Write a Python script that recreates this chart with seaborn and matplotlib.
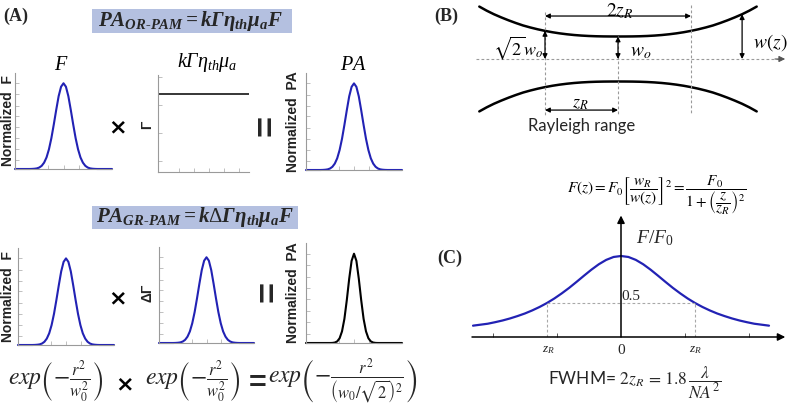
import numpy as np
import pandas as pd
import matplotlib
matplotlib.use("Agg")
import matplotlib.pyplot as plt
from matplotlib.patches import Rectangle
import seaborn as sns

# ---------------- data ----------------
# radial position (normalised units) for the small Gaussian panels
r_pos = [-1.0, -0.95, -0.9, -0.85, -0.8, -0.75, -0.7, -0.65, -0.6, -0.55, -0.5,
         -0.45, -0.4, -0.35, -0.3, -0.25, -0.2, -0.15, -0.1, -0.05, 0.0,
         0.05, 0.1, 0.15, 0.2, 0.25, 0.3, 0.35, 0.4, 0.45, 0.5,
         0.55, 0.6, 0.65, 0.7, 0.75, 0.8, 0.85, 0.9, 0.95, 1.0]
# normalised fluence F (blue, broad)
fluence_norm = [0, 0, 0, 0, 0, 0, 0, 0.001, 0.003, 0.007, 0.017,
                0.037, 0.074, 0.135, 0.23, 0.36, 0.52, 0.69, 0.85, 0.96, 1.0,
                0.96, 0.85, 0.69, 0.52, 0.36, 0.23, 0.135, 0.074, 0.037, 0.017,
                0.007, 0.003, 0.001, 0, 0, 0, 0, 0, 0, 0]
# normalised Grueneisen change (blue, broad)
delta_gamma_norm = [0, 0, 0, 0, 0, 0, 0, 0.001, 0.003, 0.007, 0.017,
                    0.037, 0.074, 0.135, 0.23, 0.36, 0.52, 0.69, 0.85, 0.96, 1.0,
                    0.96, 0.85, 0.69, 0.52, 0.36, 0.23, 0.135, 0.074, 0.037, 0.017,
                    0.007, 0.003, 0.001, 0, 0, 0, 0, 0, 0, 0]
# normalised PA of OR-PAM (blue, same width as F)
pa_or_norm = [0, 0, 0, 0, 0, 0, 0, 0.001, 0.003, 0.007, 0.017,
              0.037, 0.074, 0.135, 0.23, 0.36, 0.52, 0.69, 0.85, 0.96, 1.0,
              0.96, 0.85, 0.69, 0.52, 0.36, 0.23, 0.135, 0.074, 0.037, 0.017,
              0.007, 0.003, 0.001, 0, 0, 0, 0, 0, 0, 0]
# normalised PA of GR-PAM (black, narrower)
pa_gr_norm = [0, 0, 0, 0, 0, 0, 0, 0, 0, 0, 0,
              0.001, 0.005, 0.018, 0.053, 0.13, 0.27, 0.48, 0.72, 0.92, 1.0,
              0.92, 0.72, 0.48, 0.27, 0.13, 0.053, 0.018, 0.005, 0.001, 0,
              0, 0, 0, 0, 0, 0, 0, 0, 0, 0]
# constant Grueneisen term (OR-PAM)
gamma_const = 0.8

# Panel B: beam radius w(z) in units of w0 vs z in units of zR
beam_z = [-1.9, -1.8, -1.7, -1.6, -1.5, -1.4, -1.3, -1.2, -1.1, -1.0, -0.9, -0.8,
          -0.7, -0.6, -0.5, -0.4, -0.3, -0.2, -0.1, 0.0, 0.1, 0.2, 0.3, 0.4,
          0.5, 0.6, 0.7, 0.8, 0.9, 1.0, 1.1, 1.2, 1.3, 1.4, 1.5, 1.6, 1.7, 1.8, 1.9]
beam_w = [2.33, 2.15, 1.99, 1.85, 1.72, 1.60, 1.49, 1.40, 1.32, 1.25, 1.19, 1.14,
          1.099, 1.066, 1.041, 1.023, 1.011, 1.004, 1.001, 1.0, 1.001, 1.004, 1.011, 1.023,
          1.041, 1.066, 1.099, 1.14, 1.19, 1.25, 1.32, 1.40, 1.49, 1.60, 1.72, 1.85, 1.99, 2.15, 2.33]
beam_marks_z = [-1.0, 0.0, 1.0]      # Rayleigh range / waist positions
wz_arrow_z = 1.7                      # where w(z) is indicated

# Panel C: axial fluence F/F0 vs z/zR
axial_z = [-2.0, -1.9, -1.8, -1.7, -1.6, -1.5, -1.4, -1.3, -1.2, -1.1, -1.0, -0.9, -0.8,
           -0.7, -0.6, -0.5, -0.4, -0.3, -0.2, -0.1, 0.0, 0.1, 0.2, 0.3, 0.4, 0.5, 0.6,
           0.7, 0.8, 0.9, 1.0, 1.1, 1.2, 1.3, 1.4, 1.5, 1.6, 1.7, 1.8, 1.9, 2.0]
axial_f = [0.14, 0.152, 0.164, 0.183, 0.204, 0.229, 0.258, 0.290, 0.328, 0.371, 0.420,
           0.476, 0.539, 0.607, 0.681, 0.757, 0.831, 0.898, 0.952, 0.988, 1.0,
           0.988, 0.952, 0.898, 0.831, 0.757, 0.681, 0.607, 0.539, 0.476, 0.420,
           0.371, 0.328, 0.290, 0.258, 0.229, 0.204, 0.183, 0.164, 0.152, 0.14]
half_level = 0.42
half_z = [-1.0, 1.0]
axial_tick_labels = ["$z_R$", "0", "$z_R$"]

# ---------------- style ----------------
sns.set_theme(style="white")
plt.rcParams["font.family"] = ["Liberation Sans", "DejaVu Sans"]
plt.rcParams["mathtext.fontset"] = "custom"
plt.rcParams["mathtext.rm"] = "Liberation Serif"
plt.rcParams["mathtext.it"] = "Liberation Serif:italic"
plt.rcParams["mathtext.sf"] = "Liberation Serif:italic"
plt.rcParams["mathtext.bf"] = "Liberation Serif:bold"
plt.rcParams["mathtext.bfit"] = "Liberation Serif:bold:italic"

BLUE = "#2222b4"
W, H = 794, 411
fig = plt.figure(figsize=(W / 100, H / 100), dpi=100)
fig.patch.set_facecolor("white")


def ax_at(x0, y0, x1, y1):
    ax = fig.add_axes([x0 / W, 1 - y1 / H, (x1 - x0) / W, (y1 - y0) / H])
    ax.patch.set_alpha(0)
    return ax


def T(x, y, s, ha="center", va="center", **kw):
    return fig.text(x / W, 1 - y / H, s, ha=ha, va=va, **kw)


def small_plot(rect, yvals, color, xticks, yticks, ylim=(0, 1.12), const=None):
    ax = ax_at(*rect)
    if const is None:
        sns.lineplot(x=r_pos, y=yvals, ax=ax, color=color, lw=1.5, clip_on=False)
    else:
        sns.lineplot(x=[r_pos[0], r_pos[-1]], y=[const, const], ax=ax, color=color, lw=1.1)
    ax.set_xlim(-1, 1)
    ax.set_ylim(*ylim)
    sns.despine(ax=ax)
    for s in ["left", "bottom"]:
        ax.spines[s].set_color("#9a9a9a")
        ax.spines[s].set_linewidth(0.8)
    ax.set_xticks(xticks)
    ax.set_yticks(yticks)
    ax.tick_params(bottom=True, left=True, direction="in", length=3, width=0.6,
                   color="#b5b5b5", labelleft=False, labelbottom=False)
    ax.set_xlabel("")
    ax.set_ylabel("")
    return ax


f_xt = [-0.31, 0.0, 0.31]
f_yt = [0.105, 0.23, 0.36, 0.49, 0.62, 0.74, 0.87, 1.0]
g_xt = [-0.54, -0.21, 0.12, 0.45, 0.78]
g_yt = [0.11, 0.40, 0.69, 0.98]

# ---- Panel A, row 1 ----
small_plot((15, 73, 112, 169), fluence_norm, BLUE, f_xt, f_yt)
small_plot((158, 75, 249, 172), None, "black", g_xt, g_yt, ylim=(0, 1), const=gamma_const)
small_plot((306, 73, 402, 170), pa_or_norm, BLUE, f_xt, f_yt)
# ---- Panel A, row 2 ----
small_plot((18, 248, 114, 345), fluence_norm, BLUE, f_xt, f_yt)
small_plot((159, 247, 254, 343), delta_gamma_norm, BLUE, f_xt, f_yt)
small_plot((306, 243, 402, 343), pa_gr_norm, "black", f_xt, f_yt)

LAB = dict(rotation=90, fontsize=10, fontweight="bold", color="#222222",
           family=["Liberation Sans", "DejaVu Sans"])
T(8, 121, "Normalized  F", **LAB)
T(147, 125, "Γ", **LAB)
T(293, 122, "Normalized  PA", **LAB)
T(8, 296, "Normalized  F", **LAB)
T(147, 293, "ΔΓ", **LAB)
T(293, 293, "Normalized  PA", **LAB)

TIT = dict(fontsize=14.5, color="black")
T(61, 64, "$F$", **TIT)
T(207, 63, r"$k\mathsf{\Gamma}\eta_{th}\mu_a$", **TIT)
T(353, 64, "$PA$", **TIT)

OPS = dict(fontsize=16, fontweight="bold", color="black", family=["DejaVu Sans"])
T(118, 127, "×", **OPS)
T(268, 125, "=", rotation=90, fontsize=26, fontweight="bold", family=["Liberation Sans"])
T(118, 298, "×", **OPS)
T(270, 291, "=", rotation=90, fontsize=26, fontweight="bold", family=["Liberation Sans"])

# header boxes
BOXC = "#b4c0e0"
fig.patches.append(Rectangle((92 / W, 1 - 33 / H), 200 / W, 24 / H, transform=fig.transFigure,
                             facecolor=BOXC, edgecolor="none", zorder=0))
fig.patches.append(Rectangle((92 / W, 1 - 229 / H), 206 / W, 23 / H, transform=fig.transFigure,
                             facecolor=BOXC, edgecolor="none", zorder=0))
T(190, 21, r"$\mathbfit{PA_{OR‐PAM}{=}k\Gamma\eta_{th}\mu_aF}$", fontsize=15)
T(195, 217, r"$\mathbfit{PA_{GR‐PAM}{=}k}\Delta\mathbfit{\Gamma\eta_{th}\mu_aF}$", fontsize=15)

PANEL = dict(fontsize=13, fontweight="bold", family=["Liberation Serif"])
T(16, 16, "(A)", **PANEL)
T(446, 16, "(B)", **PANEL)
T(450, 258, "(C)", **PANEL)

# bottom formulas
FM = dict(fontsize=17, math_fontfamily="stix")
T(56, 382, r"$exp\left(-\frac{r^2}{w_0^2}\right)$", **FM)
T(125, 384, "×", **OPS)
T(193, 382, r"$exp\left(-\frac{r^2}{w_0^2}\right)$", **FM)
T(258, 384, "=", fontsize=22, fontweight="bold", family=["Liberation Sans"])
T(343, 382, r"$exp\left(-\frac{r^2}{\left(w_0/\sqrt{2}\right)^2}\right)$", **FM)

# ---- Panel B: Gaussian beam ----
axb = ax_at(470, 0, 790, 130)
wtop = np.array(beam_w)
sns.lineplot(x=beam_z, y=wtop, ax=axb, color="black", lw=1.8)
sns.lineplot(x=beam_z, y=-wtop, ax=axb, color="black", lw=1.8)
axb.set_xlim((470 - 618) / 73, (790 - 618) / 73)
axb.set_ylim((59 - 130) / 22.5, 59 / 22.5)
axb.axis("off")
DASH = dict(color="#9a9a9a", lw=0.8, ls=(0, (2.5, 2)))
zl, z0, zr = beam_marks_z
w_at = dict(zip(beam_z, beam_w))
axb.plot([beam_z[0] - 0.05, 2.2], [0, 0], **DASH)
axb.annotate("", xy=(2.29, 0), xytext=(2.15, 0),
             arrowprops=dict(arrowstyle="-|>", color="#555555", lw=0.8, mutation_scale=9,
                             shrinkA=0, shrinkB=0))
axb.plot([zl, zl], [2.09, -2.49], **DASH)
axb.plot([zr, zr], [2.4, -2.49], **DASH)
axb.plot([z0, z0], [w_at[z0], -2.49], **DASH)
ARR = dict(arrowstyle="<|-|>", color="black", lw=0.9, mutation_scale=7, shrinkA=0, shrinkB=0)
axb.annotate("", xy=(zl, 1.91), xytext=(zr, 1.91), arrowprops=ARR)
axb.annotate("", xy=(zl, w_at[zl]), xytext=(zl, 0), arrowprops=ARR)
axb.annotate("", xy=(z0, w_at[z0]), xytext=(z0, 0), arrowprops=ARR)
axb.annotate("", xy=(wz_arrow_z, w_at[wz_arrow_z]), xytext=(wz_arrow_z, 0), arrowprops=ARR)
axb.annotate("", xy=(zl, -2.27), xytext=(z0, -2.27), arrowprops=ARR)

BM = dict(math_fontfamily="stix", color="black")
T(620, 11, r"$2z_R$", fontsize=14, **BM)
T(543, 48, r"$\sqrt{2}w_o$", fontsize=13, ha="right", **BM)
T(641, 52, r"$w_o$", fontsize=14, **BM)
T(770, 43, r"$w(z)$", fontsize=14, **BM)
T(580, 103, r"$z_R$", fontsize=13, **BM)
T(582, 126, "Rayleigh range", fontsize=12, family=["Lato", "DejaVu Sans"])
T(657, 195, r"$F(z)=F_0\left[\dfrac{w_R}{w(z)}\right]^2=\dfrac{F_0}{1+\left(\dfrac{z}{z_R}\right)^2}$",
  fontsize=11, **BM)

# ---- Panel C: axial profile ----
axc = ax_at(472, 215, 790, 337)
sns.lineplot(x=axial_z, y=axial_f, ax=axc, color=BLUE, lw=1.6)
axc.set_xlim((472 - 621) / 74, (790 - 621) / 74)
axc.set_ylim(0, (337 - 215) / 81)
for s in axc.spines.values():
    s.set_visible(False)
axc.set_xticks([-1.73, -0.865, 0.865, 1.73])
axc.set_yticks([])
axc.tick_params(bottom=True, direction="in", length=3, width=0.7, color="#555555",
                labelbottom=False)
axc.set_xlabel("")
axc.set_ylabel("")
CD = dict(color="#a8a8a8", lw=0.8, ls=(0, (2.5, 2)))
axc.plot(half_z, [half_level, half_level], **CD)
for zz in half_z:
    axc.plot([zz, zz], [0, half_level], **CD)
AX = dict(arrowstyle="-|>", color="black", lw=1.1, mutation_scale=11, shrinkA=0, shrinkB=0)
axc.annotate("", xy=(2.22, 0), xytext=(axc.get_xlim()[0], 0), arrowprops=AX)
axc.annotate("", xy=(0, 1.5), xytext=(0, 0), arrowprops=AX)

T(655, 238, r"$F/F_0$", fontsize=14)
T(631, 296, "0.5", fontsize=11, family=["Liberation Serif"])
for xp, lab in zip([548, 621, 695], axial_tick_labels):
    T(xp, 350, lab, fontsize=11 if lab == "0" else 9.5, family=["Liberation Serif"])
T(635, 383, r"FWHM= $2z_R\,=\,1.8\,\dfrac{\lambda}{NA^2}$", fontsize=12.5,
  family=["Lato", "DejaVu Sans"], math_fontfamily="stix")

fig.savefig("out.png", dpi=100, facecolor="white")
